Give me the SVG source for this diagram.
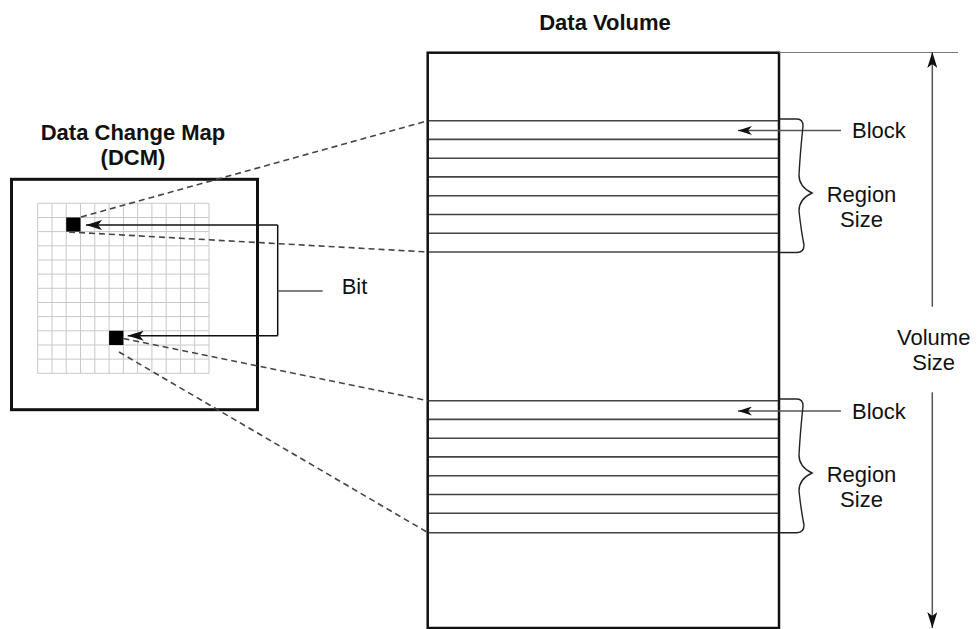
<svg xmlns="http://www.w3.org/2000/svg" width="979" height="629" viewBox="0 0 979 629">
<style>
text{font-family:"Liberation Sans",Arial,sans-serif;font-size:22px;fill:#111}
.t{font-weight:bold}
.grid line{stroke:#c8c8c8;stroke-width:1}
.stripe{stroke:#444;stroke-width:1.6}
.dash{stroke:#444;stroke-width:1.6;stroke-dasharray:6 4;fill:none}
.conn{stroke:#111;stroke-width:1.5;fill:none}
.gconn{stroke:#555;stroke-width:1.5;fill:none}
.brace{stroke:#222;stroke-width:1.4;fill:none}
</style>
<defs>
<marker id="ah" viewBox="0 0 16 10" refX="16" refY="5" markerWidth="16" markerHeight="10" orient="auto" markerUnits="userSpaceOnUse"><path d="M0,0 L16,5 L0,10 L4,5 z" fill="#111"/></marker>
<marker id="ahs" viewBox="0 0 14 9" refX="14" refY="4.5" markerWidth="14" markerHeight="9" orient="auto" markerUnits="userSpaceOnUse"><path d="M0,0 L14,4.5 L0,9 L4,4.5 z" fill="#111"/></marker>
</defs>
<rect width="979" height="629" fill="#fff"/>

<g id="title-volume"><text class="t" x="605" y="29.5" text-anchor="middle">Data Volume</text></g>
<g id="title-dcm"><text class="t" x="133" y="140" text-anchor="middle">Data Change Map</text><text class="t" x="133" y="165" text-anchor="middle">(DCM)</text></g>

<g id="dcm">
<rect x="11.5" y="179.3" width="246" height="230.4" fill="#fff" stroke="#111" stroke-width="3"/>
<g class="grid">
<line x1="37.7" y1="203.3" x2="37.7" y2="373.3"/><line x1="52" y1="203.3" x2="52" y2="373.3"/><line x1="66.2" y1="203.3" x2="66.2" y2="373.3"/><line x1="80.5" y1="203.3" x2="80.5" y2="373.3"/><line x1="94.8" y1="203.3" x2="94.8" y2="373.3"/><line x1="109.1" y1="203.3" x2="109.1" y2="373.3"/><line x1="123.4" y1="203.3" x2="123.4" y2="373.3"/><line x1="137.6" y1="203.3" x2="137.6" y2="373.3"/><line x1="151.9" y1="203.3" x2="151.9" y2="373.3"/><line x1="166.2" y1="203.3" x2="166.2" y2="373.3"/><line x1="180.5" y1="203.3" x2="180.5" y2="373.3"/><line x1="194.7" y1="203.3" x2="194.7" y2="373.3"/><line x1="209" y1="203.3" x2="209" y2="373.3"/>
<line x1="37.7" y1="203.3" x2="209" y2="203.3"/><line x1="37.7" y1="217.5" x2="209" y2="217.5"/><line x1="37.7" y1="231.6" x2="209" y2="231.6"/><line x1="37.7" y1="245.8" x2="209" y2="245.8"/><line x1="37.7" y1="260" x2="209" y2="260"/><line x1="37.7" y1="274.1" x2="209" y2="274.1"/><line x1="37.7" y1="288.3" x2="209" y2="288.3"/><line x1="37.7" y1="302.5" x2="209" y2="302.5"/><line x1="37.7" y1="316.6" x2="209" y2="316.6"/><line x1="37.7" y1="330.8" x2="209" y2="330.8"/><line x1="37.7" y1="345" x2="209" y2="345"/><line x1="37.7" y1="359.1" x2="209" y2="359.1"/><line x1="37.7" y1="373.3" x2="209" y2="373.3"/>
</g>
<rect id="bit1" x="66.2" y="217.5" width="14.3" height="14.1" fill="#000"/>
<rect id="bit2" x="109.1" y="330.8" width="14.3" height="14.2" fill="#000"/>
</g>

<g id="volume">
<rect x="427.7" y="52.7" width="351.3" height="575.3" fill="#fff" stroke="#111" stroke-width="2.5"/>
<g id="region1">
<line class="stripe" x1="429" y1="120.7" x2="778" y2="120.7"/><line class="stripe" x1="429" y1="139.4" x2="778" y2="139.4"/><line class="stripe" x1="429" y1="158.2" x2="778" y2="158.2"/><line class="stripe" x1="429" y1="176.9" x2="778" y2="176.9"/><line class="stripe" x1="429" y1="195.7" x2="778" y2="195.7"/><line class="stripe" x1="429" y1="214.5" x2="778" y2="214.5"/><line class="stripe" x1="429" y1="233.2" x2="778" y2="233.2"/><line class="stripe" x1="429" y1="252" x2="778" y2="252"/>
</g>
<g id="region2">
<line class="stripe" x1="429" y1="400.7" x2="778" y2="400.7"/><line class="stripe" x1="429" y1="419.4" x2="778" y2="419.4"/><line class="stripe" x1="429" y1="438.2" x2="778" y2="438.2"/><line class="stripe" x1="429" y1="456.9" x2="778" y2="456.9"/><line class="stripe" x1="429" y1="475.7" x2="778" y2="475.7"/><line class="stripe" x1="429" y1="494.5" x2="778" y2="494.5"/><line class="stripe" x1="429" y1="513.2" x2="778" y2="513.2"/><line class="stripe" x1="429" y1="532.7" x2="778" y2="532.7"/>
</g>
</g>

<g id="connectors">
<path class="dash" d="M81,217 L428,120.7"/>
<path class="dash" d="M69,232 L428,252"/>
<path class="dash" d="M123.4,338.5 L428,400.7"/>
<path class="dash" d="M119,352 L428,532.7"/>
<path class="conn" d="M277.7,225 H86" marker-end="url(#ah)"/>
<path class="conn" d="M277.7,335.7 H127.7" marker-end="url(#ah)"/>
<path class="conn" d="M277.7,225 V335.7"/>
<path class="gconn" d="M277.7,291 H322.7"/>
<path class="gconn" d="M841,130.5 H738" marker-end="url(#ahs)"/>
<path class="gconn" d="M841,411 H738" marker-end="url(#ahs)"/>
<path stroke="#777" stroke-width="1.2" d="M779,52.5 H958"/>
<path class="gconn" d="M932.3,306.7 V52" marker-end="url(#ah)"/>
<path class="gconn" d="M932.3,392.3 V628" marker-end="url(#ah)"/>
<path class="brace" d="M779,119 H797 Q803,119 803,126 Q800,155 799,175 Q799,187 812,193 Q799,199 799,211 Q801,230 804,245 Q804,252.5 797,252.5 H779"/>
<path class="brace" d="M779,399 H797 Q803,399 803,406 Q800,435 799,455 Q799,467 812,473 Q799,479 799,491 Q801,510 804,525 Q804,532.7 797,532.7 H779"/>
</g>

<g id="labels">
<text x="341.7" y="294.3">Bit</text>
<text x="852" y="138.3">Block</text>
<text x="852" y="418.8">Block</text>
<text x="861.5" y="202.2" text-anchor="middle">Region</text>
<text x="861.5" y="227" text-anchor="middle">Size</text>
<text x="861.5" y="482.2" text-anchor="middle">Region</text>
<text x="861.5" y="507" text-anchor="middle">Size</text>
<text x="933.7" y="345.2" text-anchor="middle">Volume</text>
<text x="933.7" y="370" text-anchor="middle">Size</text>
</g>
</svg>
